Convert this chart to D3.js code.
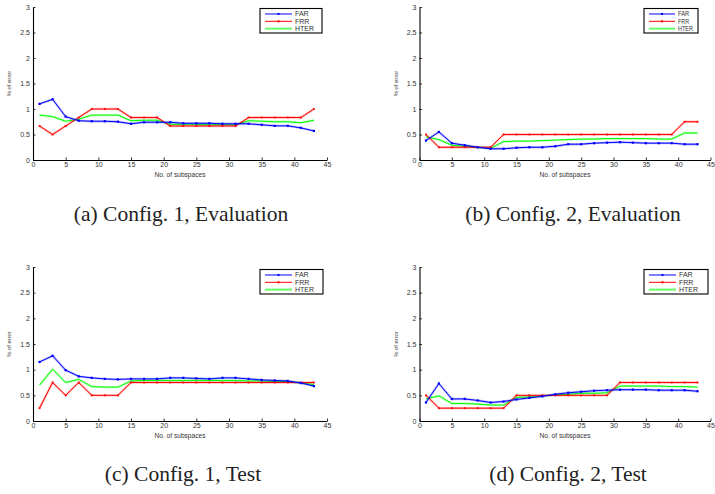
<!DOCTYPE html>
<html><head><meta charset="utf-8">
<script src="https://cdn.jsdelivr.net/npm/d3@7/dist/d3.min.js"></script>
<style>body{margin:0;background:#fff}svg{display:block}</style>
</head><body>
<svg id="chart" width="715" height="494"></svg>
<script>
// ---- data ----
const subspaces = [1,3,5,7,9,11,13,15,17,19,21,23,25,27,29,31,33,35,37,39,41,43];
const xTicks = [0,5,10,15,20,25,30,35,40,45];
const yTicks = [0,0.5,1,1.5,2,2.5,3];
const yTickLabels = ["0","0.5","1","1.5","2","2.5","3"];
const seriesNames = ["FAR","FRR","HTER"];
const captions = ["(a) Config. 1, Evaluation","(b) Config. 2, Evaluation","(c) Config. 1, Test","(d) Config. 2, Test"];

const farA  = [1.10,1.19,0.85,0.77,0.76,0.76,0.75,0.71,0.74,0.74,0.74,0.72,0.72,0.72,0.71,0.71,0.71,0.69,0.67,0.67,0.63,0.57];
const frrA  = [0.667,0.5,0.667,0.833,1.0,1.0,1.0,0.833,0.833,0.833,0.667,0.667,0.667,0.667,0.667,0.667,0.833,0.833,0.833,0.833,0.833,1.0];
const hterA = [0.88,0.85,0.76,0.80,0.88,0.88,0.88,0.77,0.78,0.78,0.70,0.70,0.70,0.69,0.69,0.69,0.77,0.76,0.75,0.75,0.73,0.78];

const farB  = [0.38,0.55,0.33,0.29,0.25,0.22,0.22,0.24,0.25,0.25,0.27,0.31,0.31,0.33,0.34,0.35,0.34,0.33,0.33,0.33,0.31,0.31];
const frrB  = [0.5,0.25,0.25,0.25,0.25,0.25,0.5,0.5,0.5,0.5,0.5,0.5,0.5,0.5,0.5,0.5,0.5,0.5,0.5,0.5,0.75,0.75];
const hterB = [0.45,0.40,0.29,0.27,0.25,0.23,0.36,0.37,0.37,0.38,0.39,0.40,0.41,0.41,0.42,0.42,0.42,0.42,0.41,0.41,0.53,0.53];

const farC  = [1.15,1.27,0.99,0.87,0.84,0.82,0.81,0.82,0.82,0.82,0.84,0.84,0.83,0.82,0.84,0.84,0.82,0.80,0.79,0.78,0.74,0.68];
const frrC  = [0.25,0.75,0.5,0.75,0.5,0.5,0.5,0.75,0.75,0.75,0.75,0.75,0.75,0.75,0.75,0.75,0.75,0.75,0.75,0.75,0.75,0.75];
const hterC = [0.70,1.01,0.75,0.81,0.67,0.66,0.66,0.78,0.79,0.79,0.79,0.79,0.79,0.79,0.79,0.79,0.78,0.78,0.77,0.77,0.74,0.71];

const farD  = [0.36,0.73,0.43,0.43,0.40,0.36,0.38,0.42,0.45,0.48,0.52,0.55,0.57,0.59,0.60,0.61,0.61,0.61,0.60,0.60,0.60,0.58];
const frrD  = [0.5,0.25,0.25,0.25,0.25,0.25,0.25,0.5,0.5,0.5,0.5,0.5,0.5,0.5,0.5,0.75,0.75,0.75,0.75,0.75,0.75,0.75];
const hterD = [0.43,0.49,0.34,0.34,0.33,0.31,0.31,0.46,0.47,0.49,0.51,0.52,0.54,0.54,0.55,0.68,0.68,0.68,0.68,0.67,0.67,0.66];

const panelData = [[farA,frrA,hterA],[farB,frrB,hterB],[farC,frrC,hterC],[farD,frrD,hterD]];

// ---- layout ----
const colors = ["#0000ff","#ff0000","#00ff00"];
const layouts = [
  {x0:33,   x1:327,   yT:7,   yB:160, lx:260, lw:62, ly:8.5,  capX:181, capY:221},
  {x0:419.5,x1:710.5, yT:7,   yB:160, lx:644, lw:54, ly:8.5,  capX:573, capY:221},
  {x0:33,   x1:327,   yT:267, yB:421, lx:260, lw:63, ly:269.5,capX:183, capY:481},
  {x0:419.5,x1:710.5, yT:267, yB:421, lx:644, lw:64, ly:269.5,capX:568, capY:481}
];

const svg = d3.select("#chart");
const sans = "'Liberation Sans', Arial, Helvetica, sans-serif";

layouts.forEach((L, i) => {
  const g = svg.append("g");
  const x = d3.scaleLinear().domain([0,45]).range([L.x0, L.x1]);
  const y = d3.scaleLinear().domain([0,3]).range([L.yB, L.yT]);

  // axes
  const xa = g.append("g").attr("transform", `translate(0,${L.yB})`)
    .call(d3.axisBottom(x).tickValues(xTicks).tickSizeInner(-2.5).tickSizeOuter(0).tickPadding(2.5).tickFormat(d3.format("d")));
  const ya = g.append("g").attr("transform", `translate(${L.x0},0)`)
    .call(d3.axisLeft(y).tickValues(yTicks).tickSizeInner(-2.5).tickSizeOuter(0).tickPadding(3).tickFormat((d,j)=>yTickLabels[j]));
  [xa, ya].forEach(a => {
    a.select(".domain").attr("stroke","#000").attr("stroke-width",1.1);
    a.selectAll(".tick line").attr("stroke","#000").attr("stroke-width",0.8);
    a.selectAll(".tick text").attr("font-family",sans).attr("font-size",7).attr("fill","#333");
  });
  xa.selectAll(".tick text").attr("dy","0.71em");

  // axis titles
  g.append("text").attr("x",(L.x0+L.x1)/2).attr("y",L.yB+16.5)
    .attr("text-anchor","middle").attr("font-family",sans).attr("font-size",6.6).attr("fill","#333")
    .text("No. of subspaces");
  g.append("text").attr("transform",`translate(${L.x0-22},${(L.yT+L.yB)/2}) rotate(-90)`)
    .attr("text-anchor","middle").attr("font-family",sans).attr("font-size",5.8).attr("fill","#333")
    .text("% of error");

  // lines
  const line = d3.line().x((d,j)=>x(subspaces[j])).y(d=>y(d));
  const order = [2,1,0];
  order.forEach(s => {
    const vals = panelData[i][s];
    g.append("path").datum(vals).attr("d", line).attr("fill","none")
      .attr("stroke", colors[s]).attr("stroke-opacity",0.25).attr("stroke-width",2.4);
    g.append("path").datum(vals).attr("d", line).attr("fill","none")
      .attr("stroke", colors[s]).attr("stroke-width", 1);
    if (s < 2) {
      const sz = s===0 ? 2.2 : 1.8;
      g.selectAll(null).data(vals).enter().append("rect")
        .attr("x",(d,j)=>x(subspaces[j])-sz/2).attr("y",d=>y(d)-sz/2)
        .attr("width",sz).attr("height",sz).attr("fill",colors[s]);
    }
  });

  // legend
  const lg = g.append("g");
  lg.append("rect").attr("x",L.lx).attr("y",L.ly).attr("width",L.lw).attr("height",24.5)
    .attr("fill","#fff").attr("stroke","#000").attr("stroke-width",1.1);
  const lineLen = (i===1) ? 26 : 27;
  seriesNames.forEach((nm, s) => {
    const yy = L.ly + 5.5 + s*7.3;
    lg.append("line").attr("x1",L.lx+5).attr("x2",L.lx+5+lineLen).attr("y1",yy).attr("y2",yy)
      .attr("stroke",colors[s]).attr("stroke-width", s===2 ? 2 : 1).attr("stroke-opacity", s===2?0.6:1);
    if (s<2) lg.append("rect").attr("x",L.lx+5+lineLen/2-1).attr("y",yy-1).attr("width",2).attr("height",2).attr("fill",colors[s]);
    const t = lg.append("text").attr("x",L.lx+8+lineLen).attr("y",yy+2.4)
      .attr("font-family",sans).attr("font-size",7).attr("fill","#333").text(nm);
    if (i===1) t.attr("textLength", [11,11,15][s]).attr("lengthAdjust","spacingAndGlyphs");
  });

  // caption
  svg.append("text").attr("x",L.capX).attr("y",L.capY).attr("text-anchor","middle")
    .attr("font-family","'Liberation Serif','Times New Roman',serif").attr("font-size",21.5).attr("fill","#222")
    .text(captions[i]);
});
</script>
</body></html>
